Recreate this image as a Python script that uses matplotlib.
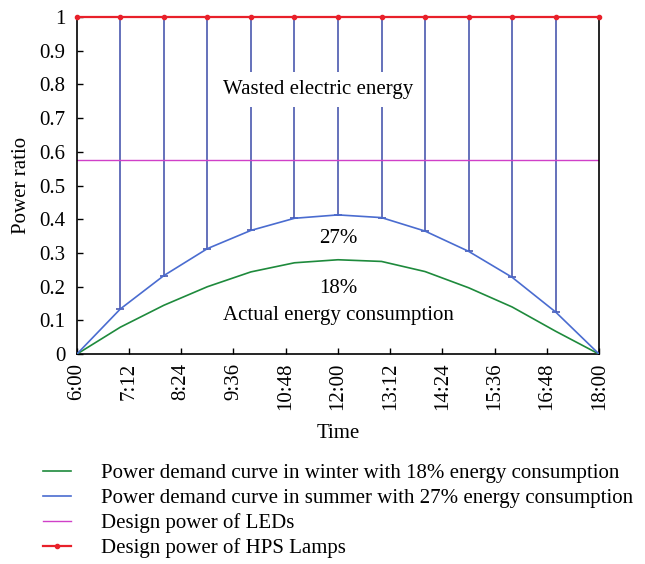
import numpy as np
import matplotlib
matplotlib.use("Agg")
import matplotlib.pyplot as plt

plt.rcParams['font.family'] = ['Liberation Serif', 'DejaVu Serif']

# hours of the day, 6:00 .. 18:00
hours = [6, 7, 8, 9, 10, 11, 12, 13, 14, 15, 16, 17, 18]
summer = [0, 0.134, 0.233, 0.313, 0.367, 0.403, 0.413, 0.405, 0.365, 0.305, 0.228, 0.125, 0]
winter = [0, 0.080, 0.145, 0.200, 0.244, 0.271, 0.280, 0.275, 0.245, 0.197, 0.140, 0.068, 0]
led_level = 0.577
hps_level = 1.0

xtick_pos = [6, 7.2, 8.4, 9.6, 10.8, 12, 13.2, 14.4, 15.6, 16.8, 18]
xtick_lab = ["6:00", "7:12", "8:24", "9:36", "10:48", "12:00", "13:12",
             "14:24", "15:36", "16:48", "18:00"]
ytick_pos = [0, 0.1, 0.2, 0.3, 0.4, 0.5, 0.6, 0.7, 0.8, 0.9, 1]
ytick_lab = ["0", "0.1", "0.2", "0.3", "0.4", "0.5", "0.6", "0.7", "0.8", "0.9", "1"]

fig = plt.figure(figsize=(6.45, 5.64), dpi=100)
ax = fig.add_axes([0.119, 0.372, 0.810, 0.598])

fs = 15

# stems from HPS level down to summer curve
for h, v in zip(hours[1:-1], summer[1:-1]):
    ax.plot([h, h], [hps_level, v], color="#3a4aa8", lw=1.1, zorder=2)
    ax.plot([h], [v], marker="_", ms=6, mew=1.1, color="#3a4aa8", zorder=3)

l_w, = ax.plot(hours, winter, color="#1e8a3c", lw=1.2, zorder=3)
l_s, = ax.plot(hours, summer, color="#4a6cd0", lw=1.2, zorder=3)
l_l = ax.axhline(led_level, color="#d040c8", lw=1.0, zorder=2)
l_h, = ax.plot(hours, [hps_level] * len(hours), color="#e8202a", lw=1.6,
               marker="o", ms=3, zorder=4, clip_on=False)

ax.text(11.55, 0.785, "Wasted electric energy", fontsize=fs, ha="center", va="center",
        bbox=dict(facecolor="white", edgecolor="none", pad=6), zorder=5)
ax.text(12, 0.343, "27%", fontsize=fs, ha="center", va="center", zorder=5)
ax.text(12, 0.195, "18%", fontsize=fs, ha="center", va="center", zorder=5)
ax.text(12, 0.115, "Actual energy consumption", fontsize=fs, ha="center", va="center", zorder=5)

ax.set_xlim(6, 18)
ax.set_ylim(0, 1)
ax.set_xticks(xtick_pos)
ax.set_xticklabels(xtick_lab, rotation=90, fontsize=fs)
ax.set_yticks(ytick_pos)
ax.set_yticklabels(ytick_lab, fontsize=fs)
ax.tick_params(direction="in", length=4, width=1, top=False, right=False)
ax.tick_params(axis="x", pad=6)
ax.tick_params(axis="y", pad=8)
for s in ax.spines.values():
    s.set_linewidth(1.2)
ax.set_xlabel("Time", fontsize=fs, labelpad=10)
ax.set_ylabel("Power ratio", fontsize=fs, labelpad=6)

fig.legend([l_w, l_s, l_l, l_h],
           ["Power demand curve in winter with 18% energy consumption",
            "Power demand curve in summer with 27% energy consumption",
            "Design power of LEDs",
            "Design power of HPS Lamps"],
           loc="upper left", bbox_to_anchor=(0.054, 0.193), frameon=False,
           fontsize=fs, handlelength=1.35, handletextpad=1.45,
           labelspacing=0.25, borderaxespad=0)

fig.savefig("out.png", dpi=100)
